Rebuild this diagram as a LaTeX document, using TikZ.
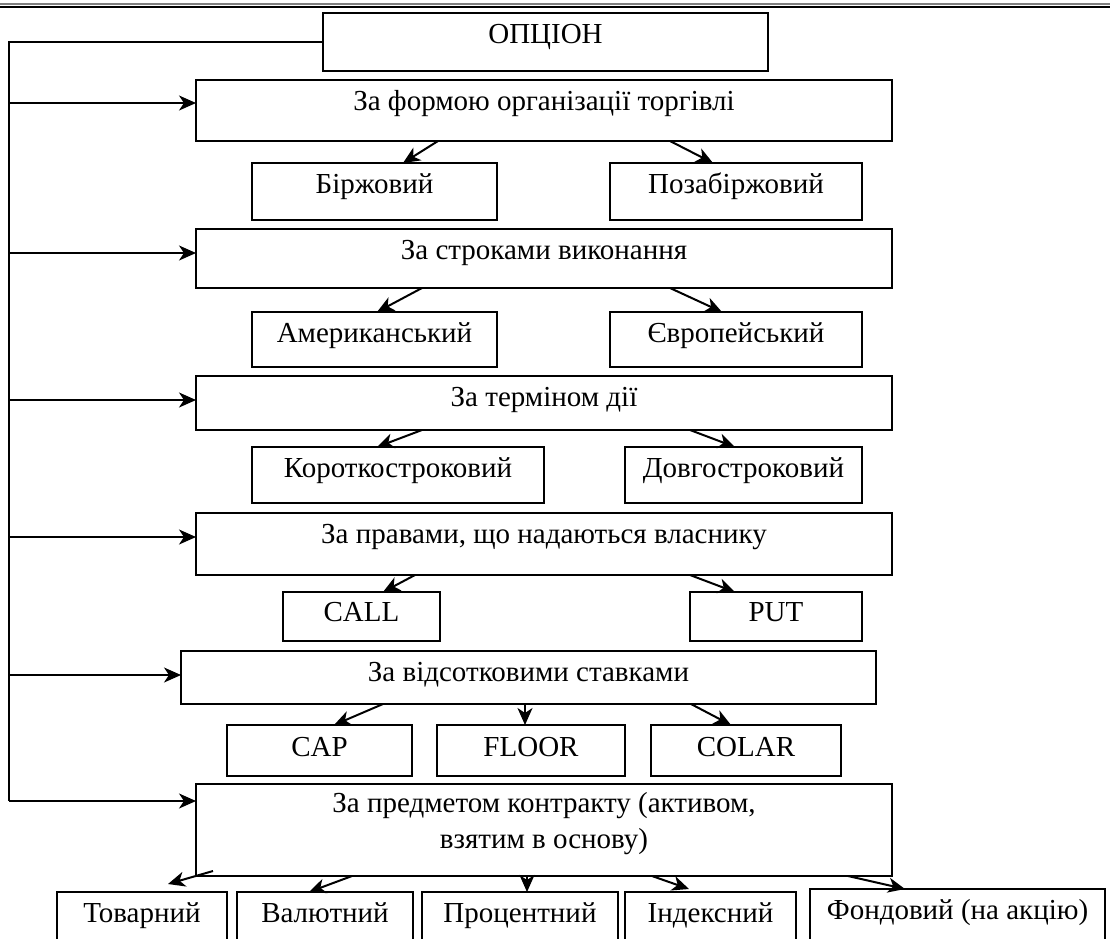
\documentclass[tikz,border=0pt]{standalone}
\usepackage{fontspec}
\setmainfont{Liberation Serif}
\usetikzlibrary{arrows.meta,calc}
\newcommand\bx[7]{%
  \node[box, minimum width={#4-#2}, minimum height={#5-#3}] (#1) at ({(#2+#4)/2},{(#3+#5)/2}) {};
  \node[lbl] (#1t) at ({(#2+#4)/2},{#3+#7}) {#6};}
\begin{document}
\begin{tikzpicture}[x=1pt,y=-1pt,
  box/.style={draw, line width=2pt, inner sep=0pt, outer sep=0pt},
  lbl/.style={anchor=base, font=\fontsize{29}{34}\selectfont, inner sep=0pt},
  arr/.style={-{Stealth[length=17pt,width=15pt,inset=5pt]}, line width=2pt},
  ln/.style={line width=2pt}]
\useasboundingbox (0,0) rectangle (1110,938);
\fill[white] (0,0) rectangle (1110,938);
% header rule
\draw[gray, line width=1.3pt] (0,4) -- (1110,4);
\draw[line width=2.5pt] (0,7) -- (1110,7);
% boxes
\bx{opt}{323}{13}{768}{71}{ОПЦІОН}{30}
\bx{b1}{196}{80}{892}{141}{За формою організації торгівлі}{30}
\bx{s11}{252}{163}{497}{220}{Біржовий}{30}
\bx{s12}{610}{163}{862}{220}{Позабіржовий}{30}
\bx{b2}{196}{229}{892}{288}{За строками виконання}{30}
\bx{s21}{252}{312}{497}{367}{Американський}{30}
\bx{s22}{610}{312}{862}{367}{Європейський}{30}
\bx{b3}{196}{376}{892}{430}{За терміном дії}{30}
\bx{s31}{252}{447}{544}{503}{Короткостроковий}{30}
\bx{s32}{625}{447}{862}{503}{Довгостроковий}{30}
\bx{b4}{196}{513}{892}{575}{За правами, що надаються власнику}{30}
\bx{s41}{283}{592}{440}{641}{CALL}{29}
\bx{s42}{690}{592}{862}{641}{PUT}{29}
\bx{b5}{181}{651}{876}{704}{За відсотковими ставками}{30}
\bx{s51}{227}{725}{412}{776}{CAP}{31}
\bx{s52}{437}{725}{625}{776}{FLOOR}{31}
\bx{s53}{651}{725}{841}{776}{COLAR}{31}
\node[box, minimum width=696, minimum height=92] (b6) at (544,830) {};
\node[lbl] (b6t1) at (544,812) {За предметом контракту (активом,};
\node[lbl] (b6t2) at (544,848) {взятим в основу)};
\bx{s61}{57}{892}{227}{960}{Товарний}{30}
\bx{s62}{237}{892}{413}{960}{Валютний}{30}
\bx{s63}{422}{892}{618}{960}{Процентний}{30}
\bx{s64}{625}{892}{796}{960}{Індексний}{30}
\bx{s65}{810}{889}{1105}{960}{Фондовий (на акцію)}{30}
% trunk
\coordinate (t0) at (9,42);
\coordinate (t1) at (9,103);
\coordinate (t2) at (9,253);
\coordinate (t3) at (9,400);
\coordinate (t4) at (9,537);
\coordinate (t5) at (9,675);
\coordinate (t6) at (9,801);
\draw[ln] (opt.west) -- (t0) -- (t6);
\draw[arr] (t1) -- (t1 -| b1.west);
\draw[arr] (t2) -- (t2 -| b2.west);
\draw[arr] (t3) -- (t3 -| b3.west);
\draw[arr] (t4) -- (t4 -| b4.west);
\draw[arr] (t5) -- (t5 -| b5.west);
\draw[arr] (t6) -- (t6 -| b6.west);
% branch arrows
\draw[arr] ([xshift=242pt]b1.south west) -- ([xshift=151pt]s11.north west);
\draw[arr] ([xshift=474pt]b1.south west) -- ([xshift=103pt]s12.north west);
\draw[arr] ([xshift=226pt]b2.south west) -- ([xshift=125pt]s21.north west);
\draw[arr] ([xshift=474pt]b2.south west) -- ([xshift=112pt]s22.north west);
\draw[arr] ([xshift=226pt]b3.south west) -- ([xshift=125pt]s31.north west);
\draw[arr] ([xshift=494pt]b3.south west) -- ([xshift=110pt]s32.north west);
\draw[arr] ([xshift=219pt]b4.south west) -- ([xshift=100pt]s41.north west);
\draw[arr] ([xshift=494pt]b4.south west) -- ([xshift=45pt]s42.north west);
\draw[arr] ([xshift=202pt]b5.south west) -- ([xshift=107pt]s51.north west);
\draw[arr] ([xshift=344pt]b5.south west) -- ([xshift=88pt]s52.north west);
\draw[arr] ([xshift=510pt]b5.south west) -- ([xshift=80pt]s53.north west);
\draw[arr] ([xshift=17pt,yshift=5pt]b6.south west) -- ([xshift=111pt,yshift=8pt]s61.north west);
\draw[arr] ([xshift=156pt]b6.south west) -- ([xshift=72pt]s62.north west);
\draw[arr] ([xshift=331pt]b6.south west) -- ([xshift=105pt]s63.north west);
\draw[arr] ([xshift=456pt]b6.south west) -- ([xshift=64pt,yshift=3pt]s64.north west);
\draw[arr] ([xshift=652pt]b6.south west) -- ([xshift=95pt]s65.north west);
\end{tikzpicture}
\end{document}
